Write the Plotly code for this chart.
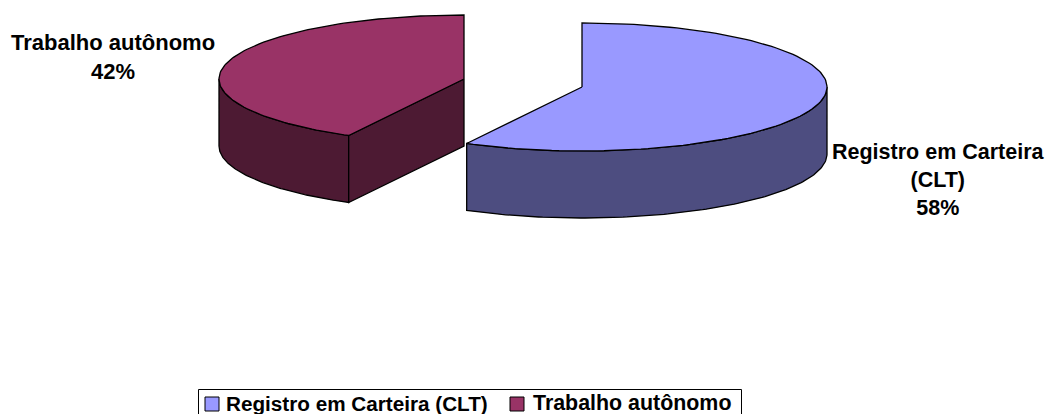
import numpy as np
import plotly.graph_objects as go

categories = ["Registro em Carteira (CLT)", "Trabalho autônomo"]
values = [57.8, 42.2]
slice_labels = ["Registro em Carteira<br>(CLT)<br>58%", "Trabalho autônomo<br>42%"]
top_colors = ["#9999FF", "#993366"]
side_colors = ["#4D4D80", "#4D1A33"]
FONT = "Liberation Sans, Arial, sans-serif"

RX, RY, DEPTH = 245, 64, 67
clt_c = (582, 87)
trab_c = (464, 79)


def arc(c, a0, a1, n=120):
    t = np.radians(np.linspace(a0, a1, n))
    return c[0] + RX * np.sin(t), c[1] - RY * np.cos(t)


def poly(x, y, color):
    return go.Scatter(x=list(x) + [x[0]], y=list(y) + [y[0]], mode="lines", fill="toself",
                      fillcolor=color, line=dict(color="black", width=1.3),
                      hoverinfo="skip", showlegend=False)


split = values[0] / sum(values) * 360
fig = go.Figure()

# Trabalho autonomo: clockwise from split angle to 360
x, y = arc(trab_c, split, 270)
fig.add_trace(poly(np.r_[x, x[::-1]], np.r_[y, y[::-1] + DEPTH], side_colors[1]))
ex, ey = x[0], y[0]
fig.add_trace(poly([trab_c[0], ex, ex, trab_c[0]],
                   [trab_c[1], ey, ey + DEPTH, trab_c[1] + DEPTH], side_colors[1]))
x, y = arc(trab_c, split, 360)
fig.add_trace(poly(np.r_[trab_c[0], x], np.r_[trab_c[1], y], top_colors[1]))

# CLT: clockwise from 0 to split angle
x, y = arc(clt_c, 90, split)
fig.add_trace(poly(np.r_[x, x[::-1]], np.r_[y, y[::-1] + DEPTH], side_colors[0]))
x, y = arc(clt_c, 0, split)
fig.add_trace(poly(np.r_[clt_c[0], x], np.r_[clt_c[1], y], top_colors[0]))

annotations = [
    dict(x=938, y=180, text="<b>" + slice_labels[0] + "</b>",
         font=dict(family=FONT, size=21.5, color="black")),
    dict(x=113, y=57, text="<b>" + slice_labels[1] + "</b>",
         font=dict(family=FONT, size=22, color="black")),
]
annotations = [dict(a, xref="x", yref="y", showarrow=False, align="center") for a in annotations]

# legend
legend_sym_x = [212, 517]
legend_txt_x = [224, 531]
legend_sizes = [20.7, 21.4]
fig.add_trace(go.Scatter(x=legend_sym_x, y=[404, 404], mode="markers", hoverinfo="skip", showlegend=False,
                         marker=dict(symbol="square", size=14, color=top_colors,
                                     line=dict(color="black", width=1))))
for tx, c, s in zip(legend_txt_x, categories, legend_sizes):
    annotations.append(dict(x=tx, y=403, xref="x", yref="y", text="<b>" + c + "</b>", showarrow=False,
                            xanchor="left", font=dict(family=FONT, size=s, color="black")))

fig.update_layout(
    width=1048, height=414, margin=dict(l=0, r=0, t=0, b=0),
    paper_bgcolor="white", plot_bgcolor="white",
    xaxis=dict(range=[0, 1048], visible=False),
    yaxis=dict(range=[414, 0], visible=False),
    annotations=annotations,
    shapes=[dict(type="rect", xref="x", yref="y", x0=198.5, x1=741.5, y0=389.5, y1=420,
                 line=dict(color="black", width=1), fillcolor="white", layer="below")],
)
fig.write_html("out.html", config=dict(displayModeBar=False),
               post_script="document.body.style.margin='0';document.body.style.overflow='hidden';")
